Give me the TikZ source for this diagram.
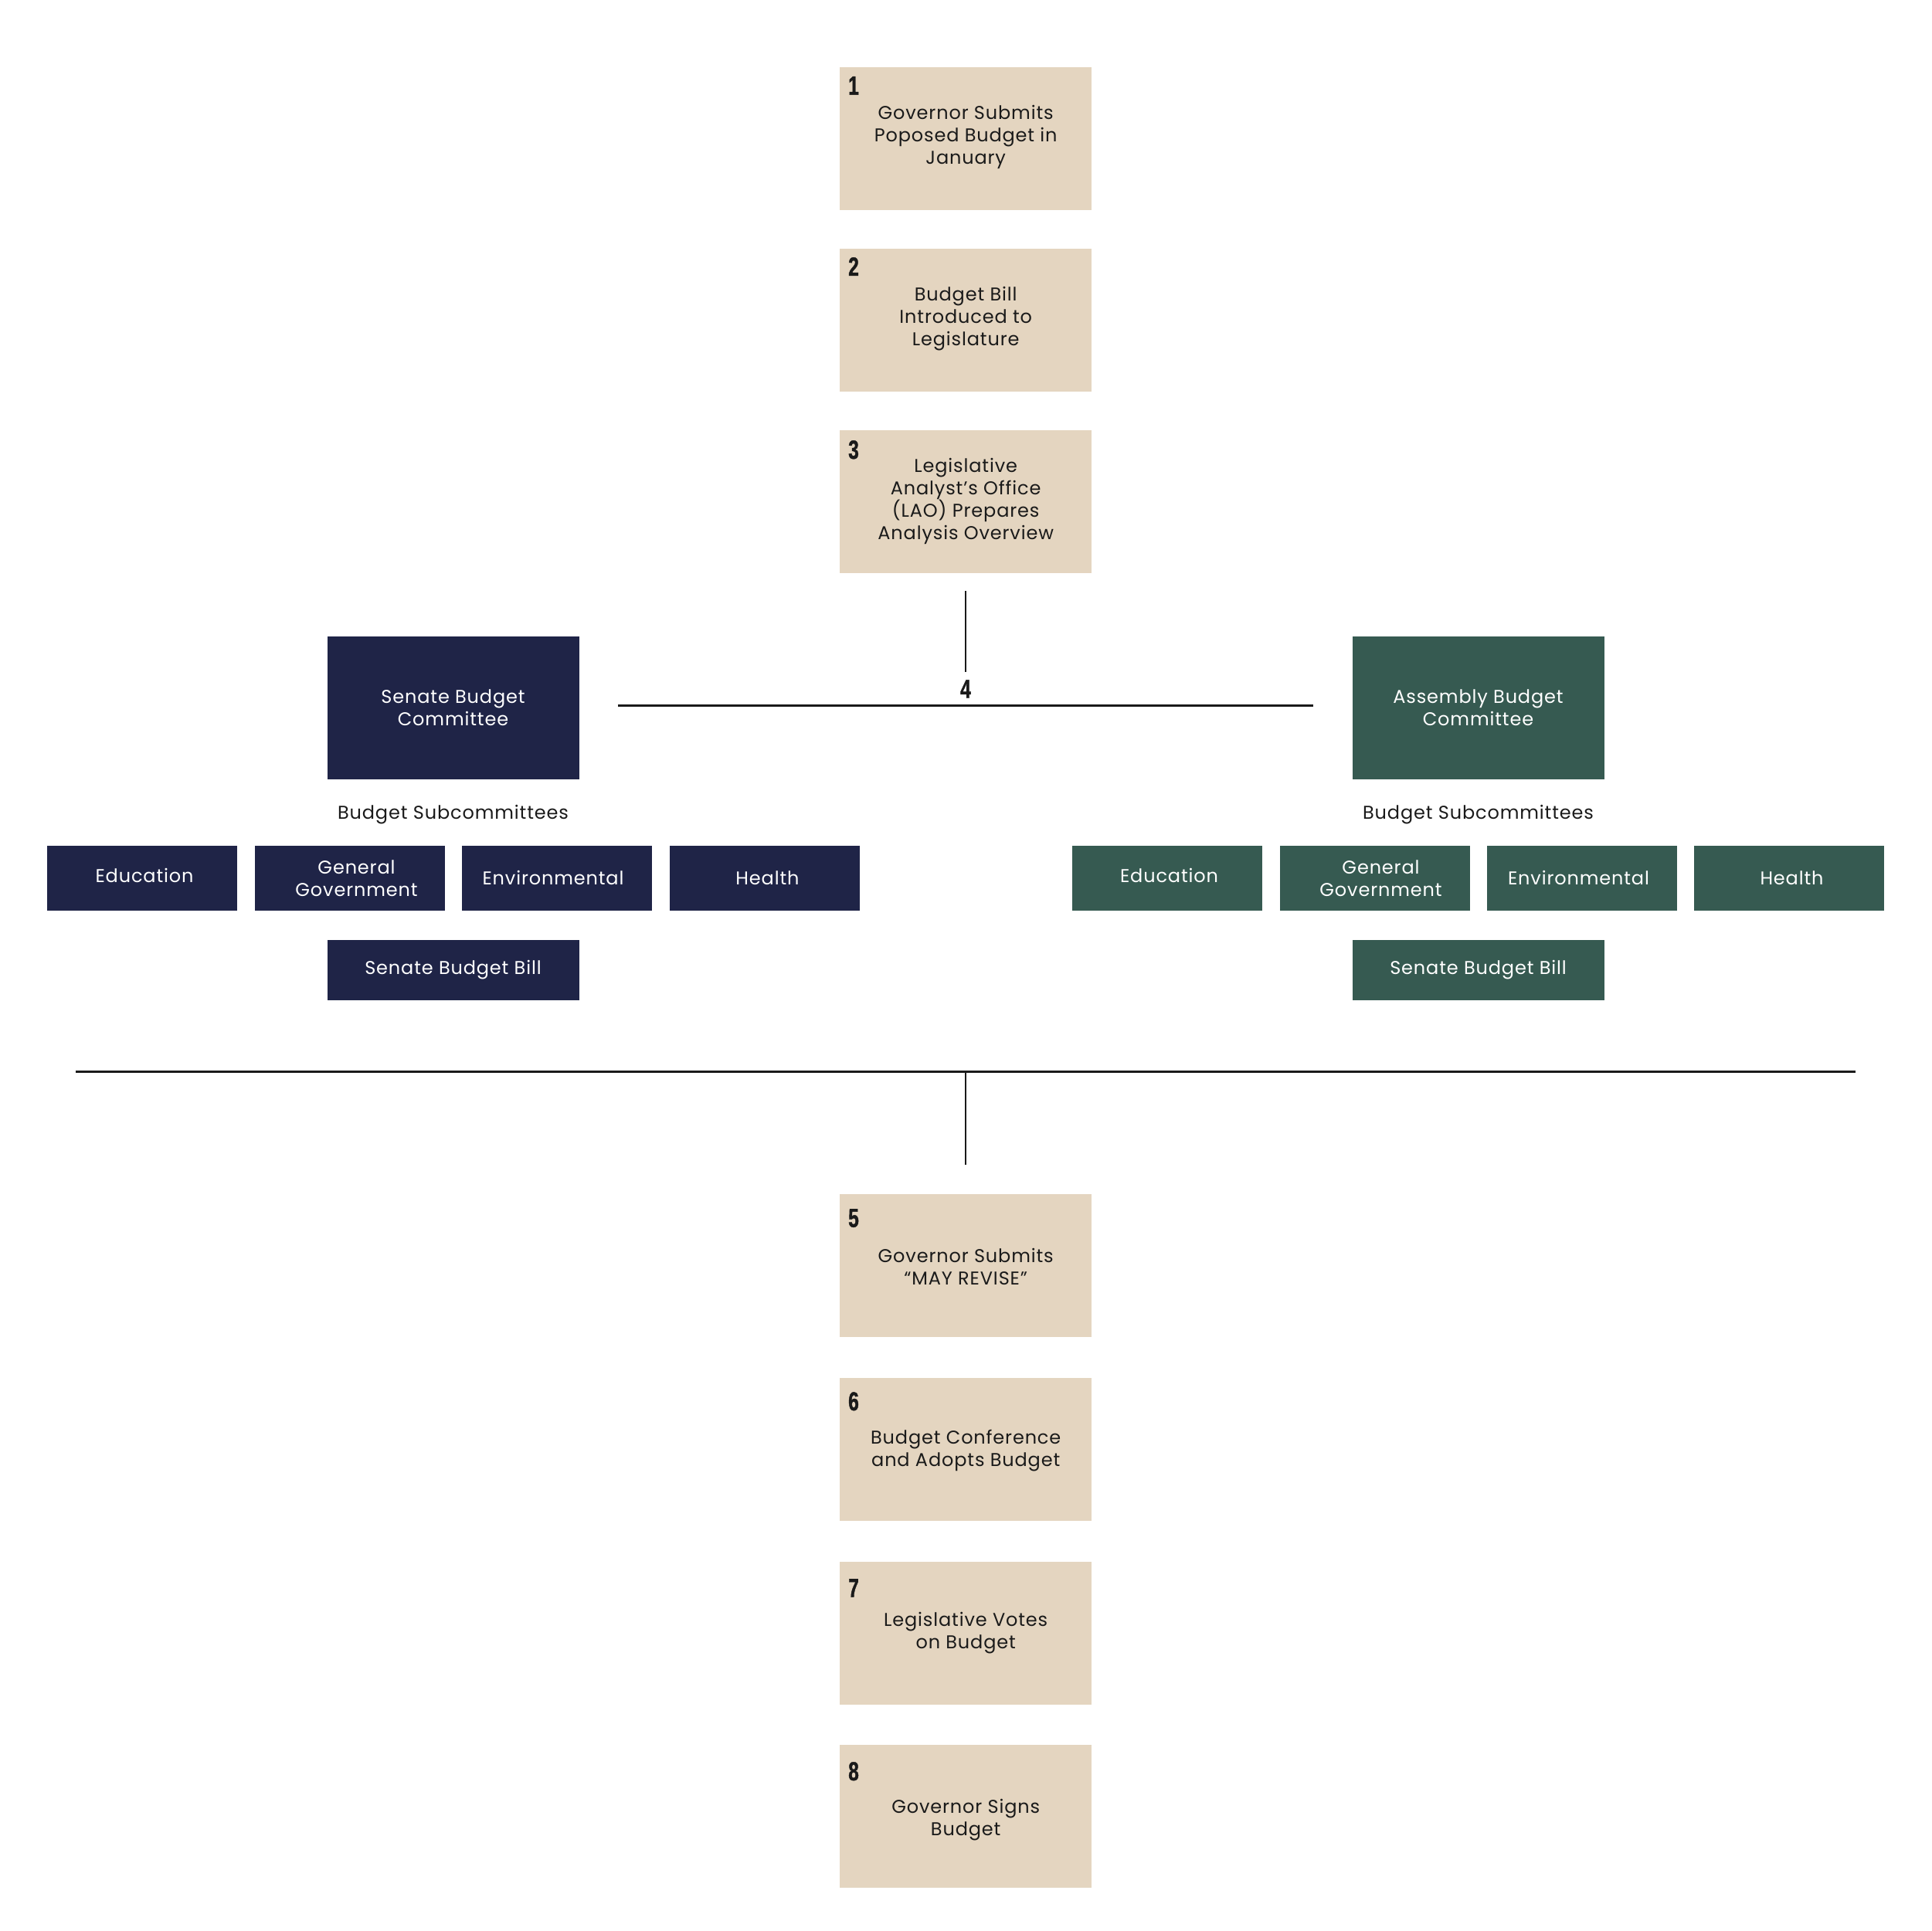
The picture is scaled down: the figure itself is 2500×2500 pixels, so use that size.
\documentclass[tikz,border=0pt]{standalone}
\usepackage{fontspec}
\setmainfont{Poppins}[LetterSpace=3.6]
\newfontfamily\numfont{Liberation Sans Bold}[FakeStretch=0.72,FakeBold=1.2]
\definecolor{beige}{HTML}{E4D5C0}
\definecolor{navy}{HTML}{1F2447}
\definecolor{pine}{HTML}{365A51}
\definecolor{ink}{HTML}{1A1A1A}
\tikzset{
  txt/.style={font=\fontsize{24}{29}\selectfont, align=center},
  stepbox/.style={fill=beige, minimum width=326pt, minimum height=185pt, inner sep=0pt, anchor=north west},
  steptext/.style={txt, text=ink},
  stepnum/.style={font=\numfont\fontsize{34}{34}\selectfont, text=ink, inner sep=0pt, anchor=north west},
  senbox/.style={fill=navy, minimum width=326pt, minimum height=185pt, inner sep=0pt, txt, text=white},
  asmbox/.style={fill=pine, minimum width=326pt, minimum height=185pt, inner sep=0pt, txt, text=white},
  subbox/.style={minimum width=246pt, minimum height=84pt, inner sep=0pt},
  subtext/.style={txt, text=white, inner sep=0pt},
  senbill/.style={fill=navy, minimum width=326pt, minimum height=78pt, inner sep=0pt, txt, text=white},
  asmbill/.style={fill=pine, minimum width=326pt, minimum height=78pt, inner sep=0pt, txt, text=white},
  label/.style={txt, text=ink, inner sep=0pt},
  thickline/.style={draw=ink, line width=3pt},
  thinline/.style={draw=ink, line width=2pt},
}
\begin{document}
\begin{tikzpicture}[x=1pt,y=-1pt]
\useasboundingbox (0,0) rectangle (2500,2500);

% step boxes
\foreach \n/\y in {1/87, 2/322, 3/557, 5/1546, 6/1784, 7/2022, 8/2259}{
  \node[stepbox] (s\n) at (1087,\y) {};
}
\node[stepnum] (n1) at (1098,99) {1};
\node[stepnum] (n2) at (1098,333) {2};
\node[stepnum] (n3) at (1098,570) {3};
\node[stepnum] (n5) at (1098,1565) {5};
\node[stepnum] (n6) at (1098,1802) {6};
\node[stepnum] (n7) at (1098,2044) {7};
\node[stepnum] (n8) at (1098,2281) {8};

\node[steptext] (t1) at ([yshift=2pt]s1.center) {Governor Submits\\Poposed Budget in\\January};
\node[steptext] (t2) at ([yshift=2pt]s2.center) {Budget Bill\\Introduced to\\Legislature};
\node[steptext] (t3) at ([yshift=1pt]s3.center) {Legislative\\Analyst’s Office\\(LAO) Prepares\\Analysis Overview};
\node[steptext] (t5) at ([yshift=-1pt]s5.center) {Governor Submits\\“MAY REVISE”};
\node[steptext] (t6) at ([yshift=-1pt]s6.center) {Budget Conference\\and Adopts Budget};
\node[steptext] (t7) at ([yshift=1pt]s7.center) {Legislative Votes\\on Budget};
\node[steptext] (t8) at ([yshift=-4pt]s8.center) {Governor Signs\\Budget};

% committees
\node[senbox] (sen) at (586.5,916) {Senate Budget\\Committee};
\node[asmbox] (asm) at (1913.5,916) {Assembly Budget\\Committee};

\node[label] (senlab) at (586.5,1055) {Budget Subcommittees};
\node[label] (asmlab) at (1913.5,1055) {Budget Subcommittees};

% subcommittee boxes (senate)
\node[subbox, fill=navy] (se1) at (184,1137) {};
\node[subbox, fill=navy] (se2) at (452.5,1137) {};
\node[subbox, fill=navy] (se3) at (721,1137) {};
\node[subbox, fill=navy] (se4) at (989.5,1137) {};
\node[subtext] (se1t) at ([xshift=3pt,yshift=4pt]se1.center) {Education};
\node[subtext] (se2t) at ([xshift=9pt]se2.center) {General\\Government};
\node[subtext] (se3t) at ([xshift=-5pt,yshift=1pt]se3.center) {Environmental};
\node[subtext] (se4t) at ([xshift=4pt]se4.center) {Health};
\node[senbill] (sebill) at (586.5,1256) {Senate Budget Bill};

% subcommittee boxes (assembly)
\node[subbox, fill=pine] (as1) at (1510.5,1137) {};
\node[subbox, fill=pine] (as2) at (1779.5,1137) {};
\node[subbox, fill=pine] (as3) at (2047.5,1137) {};
\node[subbox, fill=pine] (as4) at (2315.5,1137) {};
\node[subtext] (as1t) at ([xshift=3pt,yshift=4pt]as1.center) {Education};
\node[subtext] (as2t) at ([xshift=8pt]as2.center) {General\\Government};
\node[subtext] (as3t) at ([xshift=-4pt,yshift=1pt]as3.center) {Environmental};
\node[subtext] (as4t) at ([xshift=4pt]as4.center) {Health};
\node[asmbill] (asbill) at (1913.5,1256) {Senate Budget Bill};

% step 4 junction
\node[stepnum, anchor=center] (n4) at (1250,892) {4};
\coordinate (c4top) at (1250,765);
\coordinate (c4bot) at (1250,870);
\coordinate (hl) at (800,913);
\coordinate (hr) at (1700,913);
\draw[thinline] (c4top) -- (c4bot);
\draw[thickline] (hl) -- (hr);

% merge line
\coordinate (bl) at (98,1387);
\coordinate (br) at (2402,1387);
\coordinate (bm) at (1250,1387);
\coordinate (b5) at (1250,1508);
\draw[thickline] (bl) -- (br);
\draw[thinline] (bm) -- (b5);
\end{tikzpicture}
\end{document}
